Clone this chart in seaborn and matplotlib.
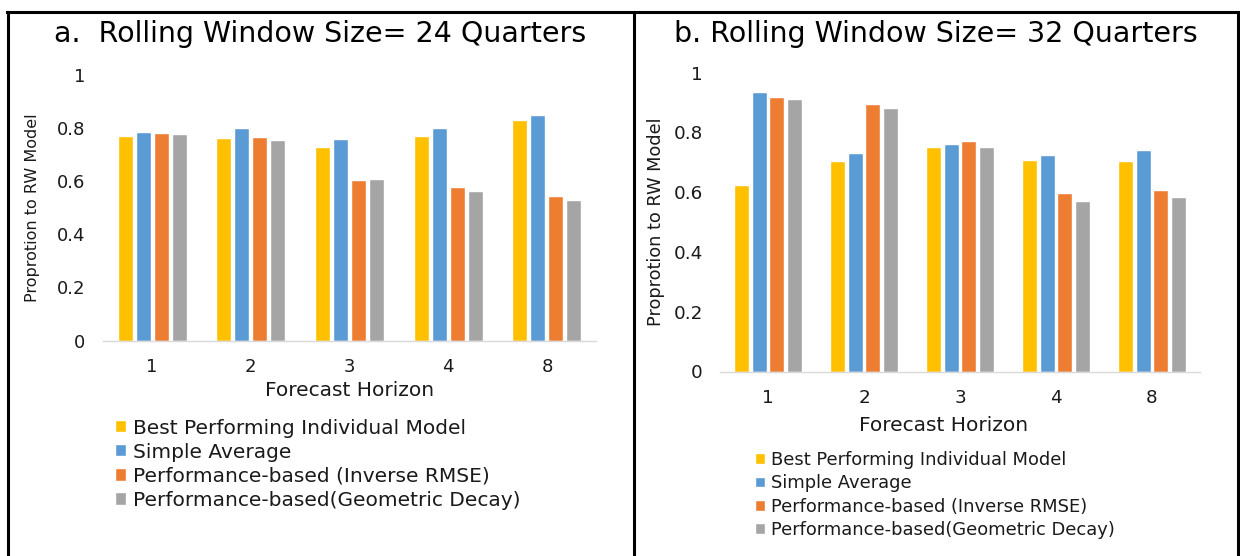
import matplotlib
matplotlib.use("Agg")
import matplotlib.pyplot as plt
from matplotlib.lines import Line2D
import pandas as pd
import seaborn as sns

# ---- data -------------------------------------------------------------
horizons = ["1", "2", "3", "4", "8"]
methods = [
    "Best Performing Individual Model",
    "Simple Average",
    "Performance-based (Inverse RMSE)",
    "Performance-based(Geometric Decay)",
]
colors = ["#FFC000", "#5B9BD5", "#ED7D31", "#A5A5A5"]

best_24 = [0.769, 0.761, 0.726, 0.769, 0.829]
simple_24 = [0.783, 0.798, 0.757, 0.798, 0.847]
inv_rmse_24 = [0.779, 0.765, 0.603, 0.576, 0.543]
geo_decay_24 = [0.775, 0.754, 0.607, 0.562, 0.529]

best_32 = [0.623, 0.703, 0.750, 0.706, 0.703]
simple_32 = [0.934, 0.732, 0.760, 0.724, 0.742]
inv_rmse_32 = [0.919, 0.895, 0.770, 0.597, 0.608]
geo_decay_32 = [0.912, 0.881, 0.750, 0.569, 0.583]

yticks = [0, 0.2, 0.4, 0.6, 0.8, 1]
ytick_labels = ["0", "0.2", "0.4", "0.6", "0.8", "1"]

titles = ["a.  Rolling Window Size= 24 Quarters",
          "b. Rolling Window Size= 32 Quarters"]
xlabel = "Forecast Horizon"
ylabel = "Proprotion to RW Model"


def long_table(series):
    rows = []
    for method, values in zip(methods, series):
        for h, v in zip(horizons, values):
            rows.append({"horizon": h, "method": method, "value": v})
    return pd.DataFrame(rows)


df24 = long_table([best_24, simple_24, inv_rmse_24, geo_decay_24])
df32 = long_table([best_32, simple_32, inv_rmse_32, geo_decay_32])

# ---- figure -----------------------------------------------------------
sns.set_style("white")
plt.rcParams["font.family"] = ["DejaVu Sans"]

W, H = 1240, 556
fig = plt.figure(figsize=(W / 100, H / 100), dpi=100)


def px_rect(left, top, right, bottom):
    return [left / W, 1 - bottom / H, (right - left) / W, (bottom - top) / H]


panels = [
    dict(df=df24, rect=px_rect(102.8, 74.5, 596.3, 340.5), title=titles[0],
         title_x=320, tick_fs=13, ylab_fs=11.5, xlab_fs=14.5, leg_fs=14.5,
         xlab_pos=(350, 395.7), ylab_x=33, leg_xy=(115, 418.5), leg_space=0.25),
    dict(df=df32, rect=px_rect(720, 72.5, 1200, 371.5), title=titles[1],
         title_x=936, tick_fs=13.2, ylab_fs=12.8, xlab_fs=14.5, leg_fs=12.9,
         xlab_pos=(944, 430.7), ylab_x=656, leg_xy=(755, 451), leg_space=0.3),
]

for p in panels:
    ax = fig.add_axes(p["rect"])
    sns.barplot(data=p["df"], x="horizon", y="value", hue="method",
                order=horizons, hue_order=methods, palette=colors,
                width=0.73, gap=0.17, saturation=1, ax=ax)
    ax.set_ylim(0, 1)
    ax.set_yticks(yticks, ytick_labels)
    ax.tick_params(axis="both", length=0, pad=12.5, labelsize=p["tick_fs"],
                   labelcolor="#1a1a1a")
    for side in ["top", "right", "left"]:
        ax.spines[side].set_visible(False)
    ax.spines["bottom"].set_color("#D9D9D9")
    ax.spines["bottom"].set_linewidth(1.0)
    ax.grid(False)

    # axis titles
    x0, y0, w0, h0 = p["rect"]
    ax.set_xlabel(xlabel, fontsize=p["xlab_fs"], color="#1a1a1a")
    ax.xaxis.set_label_coords((p["xlab_pos"][0] / W - x0) / w0,
                              ((1 - p["xlab_pos"][1] / H) - y0) / h0)
    ax.xaxis.label.set_verticalalignment("baseline")
    ax.set_ylabel(ylabel, fontsize=p["ylab_fs"], color="#1a1a1a")
    ax.yaxis.set_label_coords((p["ylab_x"] / W - x0) / w0, 0.5)
    ax.yaxis.label.set_verticalalignment("center")

    # legend below the plot
    handles, labels = ax.get_legend_handles_labels()
    ax.legend(handles, labels, loc="upper left",
              bbox_to_anchor=(p["leg_xy"][0] / W, 1 - p["leg_xy"][1] / H),
              bbox_transform=fig.transFigure, frameon=False,
              fontsize=p["leg_fs"], handlelength=0.55, handleheight=0.55,
              handletextpad=0.35, labelspacing=p["leg_space"],
              borderpad=0, borderaxespad=0, labelcolor="#1a1a1a")

    fig.text(p["title_x"] / W, 1 - 41.7 / H, p["title"], ha="center",
             va="baseline", fontsize=20.5, color="black")

# panel frames
frame_kw = dict(color="black", linewidth=2.2, transform=fig.transFigure,
                solid_capstyle="projecting")
fig.add_artist(Line2D([7 / W, 1237.5 / W], [1 - 12 / H, 1 - 12 / H], **frame_kw))
for xpx in [8, 633.5, 1237.5]:
    fig.add_artist(Line2D([xpx / W, xpx / W], [1 - 12 / H, 0], **frame_kw))

fig.savefig("out.png", dpi=100)
